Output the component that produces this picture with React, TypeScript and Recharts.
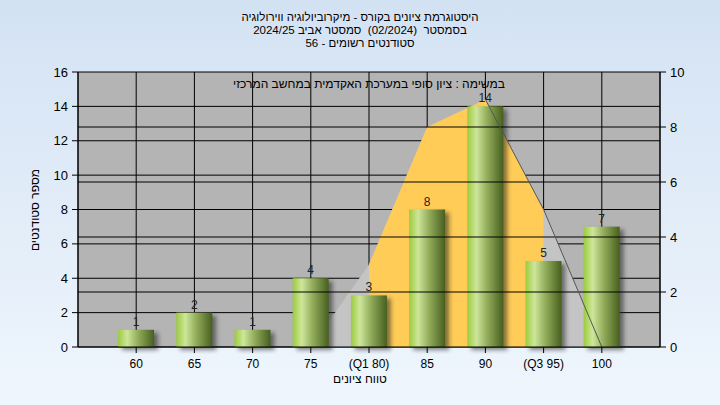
import React from 'react';
import {
  ComposedChart, Bar, Area, Line, XAxis, YAxis, CartesianGrid, ReferenceLine, LabelList,
} from 'recharts';

const grades = [60, 65, 70, 75, 80, 85, 90, 95, 100];
const tickLabels = ['60', '65', '70', '75', '(Q1 80)', '85', '90', '(Q3 95)', '100'];
const counts = [1, 2, 1, 4, 3, 8, 14, 5, 7];
const curve = [null, null, null, 0, 3, 8, 9, 5, 0];
const quartileBand = [null, null, null, null, 3, 8, 9, 5, null];
const tailLine = [null, null, null, null, null, null, 9, 5, 0];

const leftTicks = [0, 2, 4, 6, 8, 10, 12, 14, 16];
const rightTicks = [0, 2, 4, 6, 8, 10];
const rightGrid = [2, 4, 6, 8];

const titleLines = [
  'היסטוגרמת ציונים בקורס - מיקרוביולוגיה ווירולוגיה',
  'בסמסטר  (02/2024)  סמסטר אביב 2024/25',
  'סטודנטים רשומים - 56',
];
const subtitle = 'במשימה : ציון סופי במערכת האקדמית במחשב המרכזי';
const xLabel = 'טווח ציונים';
const yLabel = 'מספר סטודנטים';

const rows = grades.map((g, i) => ({
  x: g,
  count: counts[i],
  curve: curve[i],
  band: quartileBand[i],
  tail: tailLine[i],
}));

const FONT = '"Liberation Sans", Arial, "DejaVu Sans", sans-serif';

const BarShape = (props: any) => {
  const { x, y, width, height } = props;
  if (!height || height <= 0) return null;
  return (
    <g>
      <defs>
        <linearGradient id="barGrad" x1="0" y1="0" x2="1" y2="0">
          <stop offset="0%" stopColor="#9ccb3e" />
          <stop offset="25%" stopColor="#cde69a" />
          <stop offset="55%" stopColor="#93ad5c" />
          <stop offset="100%" stopColor="#465f1e" />
        </linearGradient>
        <filter id="barShadow" x="-50%" y="-20%" width="200%" height="140%">
          <feGaussianBlur stdDeviation="2.2" />
        </filter>
      </defs>
      <rect x={x + 4} y={y + 3} width={width} height={height} fill="#222" opacity={0.55} filter="url(#barShadow)" />
      <rect x={x} y={y} width={width} height={height} fill="url(#barGrad)" />
    </g>
  );
};

const textBox = (top: number, left: number, width: number, size = 12): React.CSSProperties => ({
  position: 'absolute',
  left,
  top,
  width,
  textAlign: 'center',
  fontSize: size,
  lineHeight: '13px',
  color: '#000',
  direction: 'rtl',
  whiteSpace: 'pre',
});

export default function App() {
  return (
    <div
      style={{
        position: 'absolute',
        left: 0,
        top: 0,
        width: 720,
        height: 405,
        background: 'linear-gradient(#d3e2f3, #eff6fd)',
        fontFamily: FONT,
        overflow: 'hidden',
      }}
    >
      <ComposedChart width={720} height={405} data={rows} margin={{ top: 72, right: 0, bottom: 28, left: 0 }}>
        <CartesianGrid
          yAxisId="left"
          xAxisId="x"
          fill="#b4b4b4"
          fillOpacity={1}
          stroke="#000"
          strokeOpacity={1}
        />
        {rightGrid.map((v) => (
          <ReferenceLine key={v} yAxisId="right" xAxisId="x" y={v} stroke="#000" strokeWidth={1} ifOverflow="visible" />
        ))}
        <XAxis
          xAxisId="x"
          dataKey="x"
          type="number"
          domain={[55, 105]}
          ticks={grades}
          height={30}
          tickFormatter={(v: number) => tickLabels[grades.indexOf(v)] ?? String(v)}
          tick={{ fill: '#000', fontSize: 12, fontFamily: FONT }}
          axisLine={{ stroke: '#000' }}
          tickLine={{ stroke: '#000' }}
          tickSize={6}
          tickMargin={6}
          interval={0}
        />
        <YAxis
          yAxisId="left"
          orientation="left"
          width={78}
          domain={[0, 16]}
          ticks={leftTicks}
          tick={{ fill: '#000', fontSize: 13, fontFamily: FONT }}
          axisLine={{ stroke: '#000' }}
          tickLine={{ stroke: '#000' }}
          tickSize={6}
          tickMargin={4}
          interval={0}
        />
        <YAxis
          yAxisId="right"
          orientation="right"
          width={60}
          domain={[0, 10]}
          ticks={rightTicks}
          tick={{ fill: '#000', fontSize: 13, fontFamily: FONT }}
          axisLine={{ stroke: '#000' }}
          tickLine={{ stroke: '#000' }}
          tickSize={6}
          tickMargin={4}
          interval={0}
        />
        <Area
          xAxisId="x"
          yAxisId="right"
          type="linear"
          dataKey="curve"
          fill="#c4c4c4"
          fillOpacity={1}
          stroke="none"
          isAnimationActive={false}
          dot={false}
          activeDot={false}
        />
        <Area
          xAxisId="x"
          yAxisId="right"
          type="linear"
          dataKey="band"
          fill="#ffcc58"
          fillOpacity={1}
          stroke="none"
          isAnimationActive={false}
          dot={false}
          activeDot={false}
        />
        <Line
          xAxisId="x"
          yAxisId="right"
          type="linear"
          dataKey="tail"
          stroke="#555"
          strokeWidth={1}
          dot={false}
          activeDot={false}
          isAnimationActive={false}
        />
        <Bar
          xAxisId="x"
          yAxisId="left"
          dataKey="count"
          barSize={36}
          shape={<BarShape />}
          isAnimationActive={false}
        >
          <LabelList dataKey="count" position="top" offset={4} fill="#222" fontSize={12} fontFamily={FONT} />
        </Bar>
      </ComposedChart>

      <div style={textBox(11, 0, 720, 11.5)}>
        {titleLines.map((t, i) => (
          <div key={i}>{t}</div>
        ))}
      </div>

      <div style={textBox(78, 78, 582)}>{subtitle}</div>

      <div style={textBox(373, 0, 720)}>{xLabel}</div>

      <div
        style={{
          ...textBox(210 - 7, 35 - 100, 200),
          height: 14,
          lineHeight: '14px',
          transform: 'rotate(-90deg)',
          transformOrigin: '100px 7px',
        }}
      >
        {yLabel}
      </div>
    </div>
  );
}
